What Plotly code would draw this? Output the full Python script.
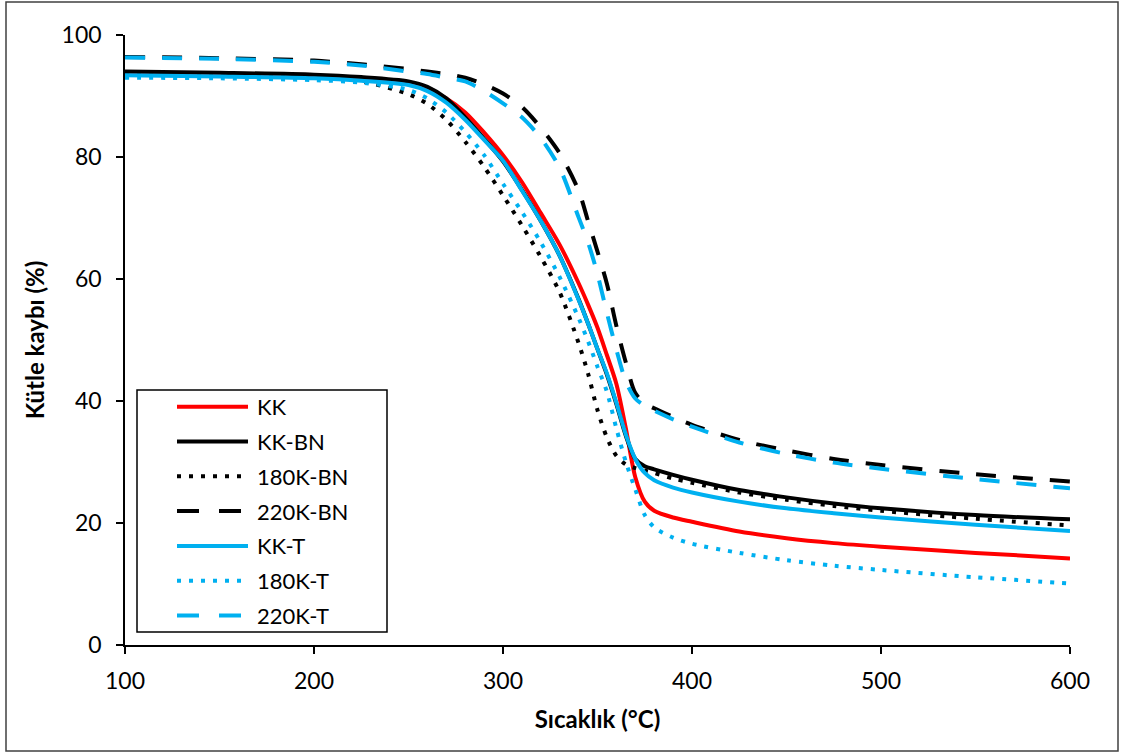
import plotly.graph_objects as go

# ---------------- data ----------------
temperature = [100, 150, 200, 225, 250, 260, 270, 280, 290, 300, 310, 320, 330, 340, 345,
               350, 355, 360, 365, 370, 375, 380, 390, 400, 425, 450, 475, 500, 550, 600]

kk = [93.6, 93.4, 93.1, 92.8, 91.9, 91.0, 89.6, 87.3, 84.0, 80.3, 75.9, 70.8, 65.6, 59.3, 55.8,
      52.0, 47.5, 42.8, 35.5, 27.5, 23.5, 22.0, 20.9, 20.2, 18.6, 17.5, 16.7, 16.1, 15.1, 14.2]
kk_bn = [94.0, 93.8, 93.5, 93.1, 92.4, 91.5, 89.6, 86.5, 83.0, 79.3, 74.6, 69.5, 63.8, 56.7, 52.7,
         48.5, 44.3, 39.5, 34.3, 30.5, 29.3, 28.8, 27.9, 27.1, 25.4, 24.2, 23.2, 22.4, 21.3, 20.6]
k180_bn = [93.6, 93.4, 93.0, 92.4, 90.3, 88.7, 86.1, 82.5, 78.4, 73.7, 68.8, 63.6, 57.8, 49.5, 44.5,
           38.5, 34.0, 31.0, 29.6, 29.0, 28.6, 28.2, 27.3, 26.6, 25.0, 23.8, 22.8, 22.0, 20.7, 19.6]
k220_bn = [96.4, 96.2, 95.8, 95.2, 94.4, 94.0, 93.6, 93.0, 91.9, 90.4, 88.2, 84.8, 80.6, 74.5, 69.5,
           64.5, 59.2, 52.3, 46.3, 41.3, 39.6, 38.8, 37.4, 36.1, 33.6, 31.9, 30.5, 29.5, 28.0, 26.8]
kk_t = [93.4, 93.2, 92.9, 92.5, 91.8, 90.8, 88.9, 86.1, 82.8, 79.4, 74.5, 69.5, 63.8, 56.6, 52.7,
        48.5, 44.5, 39.7, 34.5, 30.5, 28.2, 27.0, 25.8, 25.0, 23.5, 22.4, 21.6, 20.9, 19.7, 18.7]
k180_t = [93.0, 92.9, 92.6, 92.2, 91.0, 89.6, 87.3, 84.1, 80.3, 75.6, 71.0, 66.0, 60.3, 53.6, 49.8,
          45.6, 41.5, 35.5, 30.0, 25.5, 21.3, 19.3, 17.6, 16.6, 15.1, 13.9, 13.0, 12.3, 11.1, 10.1]
k220_t = [96.3, 96.1, 95.6, 95.0, 94.0, 93.6, 93.0, 92.4, 90.8, 88.8, 86.5, 83.1, 78.2, 70.1, 66.0,
          60.8, 54.4, 48.4, 43.2, 40.4, 39.2, 38.4, 37.0, 35.8, 33.2, 31.3, 29.9, 28.9, 27.2, 25.7]

series_names = ["KK", "KK-BN", "180K-BN", "220K-BN", "KK-T", "180K-T", "220K-T"]
series_values = [kk, kk_bn, k180_bn, k220_bn, kk_t, k180_t, k220_t]

x_ticks = [100, 200, 300, 400, 500, 600]
y_ticks = [0, 20, 40, 60, 80, 100]

# ---------------- styles ----------------
RED = "#FF0000"
BLACK = "#000000"
BLUE = "#00B0F0"
DOT = "4px,8px"
DASH = "20px,17px"
LEG_DASH = "22px,20px"
colors = [RED, BLACK, BLACK, BLACK, BLUE, BLUE, BLUE]
dashes = ["solid", "solid", DOT, DASH, "solid", DOT, DASH]
leg_dashes = ["solid", "solid", DOT, LEG_DASH, "solid", DOT, LEG_DASH]
FONT = "Lato"

fig = go.Figure()
for name, vals, c, d in zip(series_names, series_values, colors, dashes):
    fig.add_trace(go.Scatter(
        x=temperature, y=vals, name=name, mode="lines",
        line=dict(color=c, width=4, dash=d, shape="spline", smoothing=0.8),
        showlegend=False,
    ))

# plot-area geometry (px) for legend placement
L, R, T, B = 125, 1070, 35, 645
W, H = R - L, B - T


def px_x(p):
    return (p - L) / W


def px_y(p):
    return (B - p) / H


shapes = []
annotations = []
# manual legend box
shapes.append(dict(type="rect", xref="paper", yref="paper",
                   x0=px_x(137), x1=px_x(387), y0=px_y(632), y1=px_y(390),
                   line=dict(color="#000000", width=1.5), fillcolor="white", layer="above"))
for i, (name, c, d) in enumerate(zip(series_names, colors, leg_dashes)):
    yy = px_y(406.7 + 34.8 * i)
    shapes.append(dict(type="line", xref="paper", yref="paper",
                       x0=px_x(177), x1=px_x(248), y0=yy, y1=yy,
                       line=dict(color=c, width=4, dash=d), layer="above"))
    annotations.append(dict(xref="paper", yref="paper", x=px_x(255), y=yy,
                            xanchor="left", yanchor="middle", text=name, showarrow=False,
                            font=dict(family=FONT, size=22, color="black")))

# outer chart border
shapes.append(dict(type="rect", xref="paper", yref="paper",
                   x0=px_x(6), x1=px_x(1118), y0=px_y(751), y1=px_y(2),
                   line=dict(color="#404040", width=1.5), fillcolor="rgba(0,0,0,0)", layer="below"))

fig.update_layout(
    width=1123, height=753, autosize=False,
    margin=dict(l=L, r=1123 - R, t=T, b=753 - B),
    paper_bgcolor="white", plot_bgcolor="white",
    font=dict(family=FONT, size=23, color="black"),
    shapes=shapes, annotations=annotations,
    xaxis=dict(range=[100, 600], tickvals=x_ticks, ticks="outside", ticklen=7, tickwidth=1.5,
               tickcolor="black", showline=True, linecolor="black", linewidth=1.5,
               showgrid=False, zeroline=False, ticklabelstandoff=8,
               title=dict(text="<b>Sıcaklık (°C)</b>", font=dict(family=FONT, size=24), standoff=18)),
    yaxis=dict(range=[0, 100], tickvals=y_ticks, ticks="outside", ticklen=7, tickwidth=1.5,
               tickcolor="black", showline=True, linecolor="black", linewidth=1.5,
               showgrid=False, zeroline=False, ticklabelstandoff=10,
               title=dict(text="<b>Kütle kaybı (%)</b>", font=dict(family=FONT, size=24), standoff=10)),
)

fig.write_html("out.html")
